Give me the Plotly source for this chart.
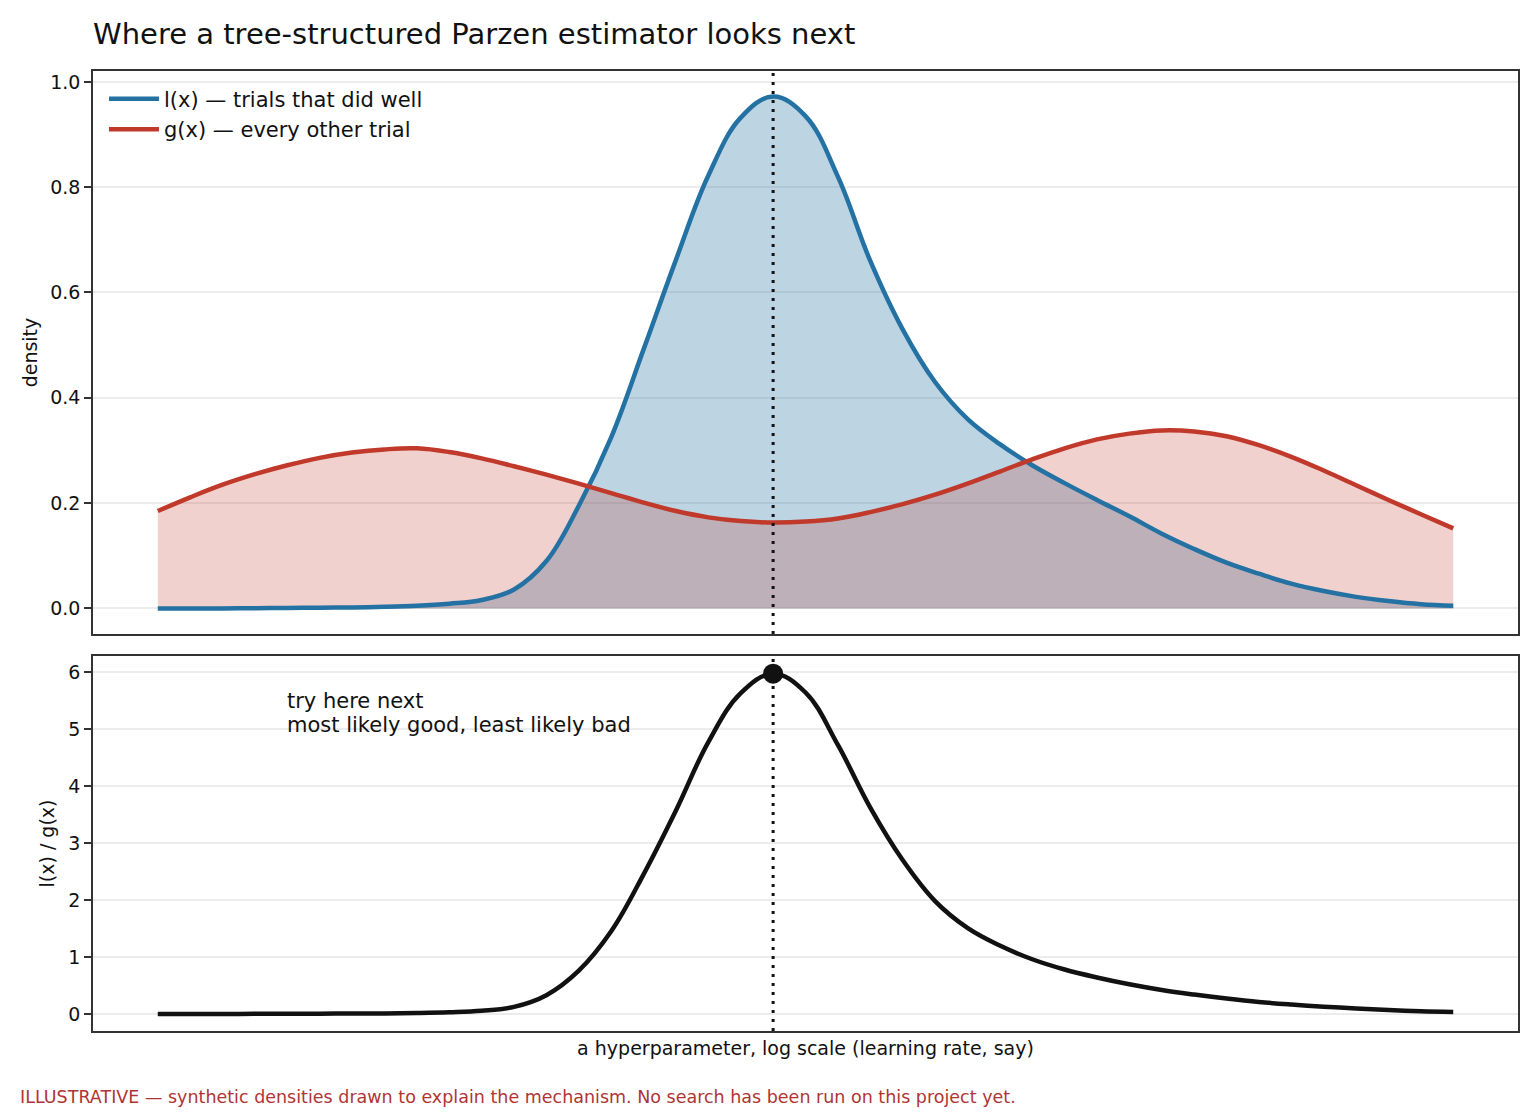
import plotly.graph_objs as go
from plotly.subplots import make_subplots

# log10 of the hyperparameter (no tick labels are shown in the chart)
log_lr = [-5.0, -4.9, -4.8, -4.7, -4.6, -4.5, -4.4, -4.3, -4.2, -4.1,
          -4.0, -3.9, -3.8, -3.7, -3.6, -3.5, -3.4, -3.3, -3.2, -3.1,
          -3.0, -2.9, -2.8, -2.7, -2.6, -2.5, -2.4, -2.3, -2.2, -2.1,
          -2.0, -1.9, -1.8, -1.7, -1.6, -1.5, -1.4, -1.3, -1.2, -1.1, -1.0]

# l(x): density of the trials that did well
l_good = [0.000, 0.000, 0.000, 0.0005, 0.001, 0.0015, 0.002, 0.003, 0.005, 0.009,
          0.016, 0.036, 0.090, 0.195, 0.325, 0.492, 0.662, 0.822, 0.932, 0.972,
          0.935, 0.820, 0.660, 0.530, 0.430, 0.360, 0.312, 0.272, 0.238, 0.206,
          0.175, 0.142, 0.113, 0.087, 0.066, 0.047, 0.033, 0.022, 0.014, 0.008, 0.005]

# g(x): density of every other trial
g_rest = [0.185, 0.211, 0.235, 0.255, 0.272, 0.286, 0.296, 0.302, 0.304, 0.297,
          0.285, 0.270, 0.254, 0.237, 0.219, 0.201, 0.185, 0.173, 0.166, 0.163,
          0.165, 0.171, 0.183, 0.198, 0.216, 0.237, 0.260, 0.283, 0.304, 0.321,
          0.332, 0.338, 0.336, 0.327, 0.310, 0.288, 0.262, 0.234, 0.206, 0.179, 0.152]

# l(x) / g(x)
ratio = [0.000, 0.000, 0.000, 0.002, 0.003, 0.005, 0.007, 0.010, 0.017, 0.030,
         0.056, 0.125, 0.330, 0.760, 1.450, 2.450, 3.570, 4.770, 5.630, 5.970,
         5.640, 4.720, 3.620, 2.700, 1.980, 1.510, 1.200, 0.960, 0.780, 0.640,
         0.520, 0.420, 0.340, 0.270, 0.210, 0.165, 0.128, 0.096, 0.069, 0.047, 0.034]

BLUE = "#2471a3"
RED = "#c0392b"
INK = "#111111"
FONT = "DejaVu Sans"
SMOOTH = 1.1

best = ratio.index(max(ratio))
x_best = log_lr[best]

fig = make_subplots(rows=2, cols=1, shared_xaxes=True, vertical_spacing=0.02)

# fills first so the lines sit on top of them
fig.add_trace(go.Scatter(x=log_lr, y=l_good, fill="tozeroy", fillcolor="rgba(36,113,163,0.30)",
                         mode="lines", line=dict(width=0, shape="spline", smoothing=SMOOTH),
                         showlegend=False, hoverinfo="skip"), row=1, col=1)
fig.add_trace(go.Scatter(x=log_lr, y=g_rest, fill="tozeroy", fillcolor="rgba(192,57,43,0.23)",
                         mode="lines", line=dict(width=0, shape="spline", smoothing=SMOOTH),
                         showlegend=False, hoverinfo="skip"), row=1, col=1)
fig.add_trace(go.Scatter(x=log_lr, y=l_good, mode="lines", name="l(x) — trials that did well",
                         line=dict(color=BLUE, width=4.5, shape="spline", smoothing=SMOOTH)),
              row=1, col=1)
fig.add_trace(go.Scatter(x=log_lr, y=g_rest, mode="lines", name="g(x) — every other trial",
                         line=dict(color=RED, width=4.5, shape="spline", smoothing=SMOOTH)),
              row=1, col=1)

fig.add_trace(go.Scatter(x=log_lr, y=ratio, mode="lines", showlegend=False,
                         line=dict(color=INK, width=4.5, shape="spline", smoothing=SMOOTH)),
              row=2, col=1)
fig.add_trace(go.Scatter(x=[x_best], y=[ratio[best]], mode="markers", showlegend=False,
                         marker=dict(color=INK, size=20)), row=2, col=1)

for r in (1, 2):
    fig.add_vline(x=x_best, line=dict(color=INK, width=3, dash="3px,6px"), row=r, col=1)

# the two note lines, placed separately to keep matplotlib-like line spacing
for txt, yv in (("try here next", 5.49), ("most likely good, least likely bad", 5.07)):
    fig.add_annotation(x=-4.607, y=yv, xref="x2", yref="y2", xanchor="left", yanchor="middle",
                       showarrow=False, text=txt, font=dict(family=FONT, size=21, color=INK))

fig.add_annotation(x=-0.0526, y=-0.069, xref="paper", yref="paper", xanchor="left",
                   yanchor="middle", showarrow=False,
                   text="ILLUSTRATIVE — synthetic densities drawn to explain the mechanism. "
                        "No search has been run on this project yet.",
                   font=dict(family=FONT, size=17.5, color="#b03434"))

axis_style = dict(showline=True, linecolor="#333333", linewidth=1.6, mirror=True, zeroline=False)

fig.update_xaxes(range=[-5.2, -0.8], showticklabels=False, ticks="", showgrid=False, **axis_style)
fig.update_xaxes(title=dict(text="a hyperparameter, log scale (learning rate, say)",
                            font=dict(size=19), standoff=10), row=2, col=1)

fig.update_yaxes(ticks="outside", ticklen=7, tickwidth=1.5, tickcolor="#333333",
                 showgrid=True, gridcolor="#ececec", gridwidth=1.5,
                 tickfont=dict(size=19), **axis_style)
fig.update_yaxes(domain=[0.4135, 1.0], range=[-0.0486, 1.0206],
                 tickvals=[0, 0.2, 0.4, 0.6, 0.8, 1.0], tickformat=".1f",
                 title=dict(text="density", font=dict(size=19), standoff=8), row=1, col=1)
fig.update_yaxes(domain=[0.0, 0.3906], range=[-0.299, 6.28], dtick=1,
                 title=dict(text="l(x) / g(x)", font=dict(size=19), standoff=9), row=2, col=1)

# the page adds an 8px body margin, so the figure is 8px smaller and shifted margins
fig.update_layout(
    width=1532,
    height=1112,
    margin=dict(l=85, r=22, t=63, b=89),
    paper_bgcolor="white",
    plot_bgcolor="white",
    font=dict(family=FONT, size=19, color=INK),
    title=dict(text="Where a tree-structured Parzen estimator looks next", x=85 / 1532,
               xanchor="left", y=1 - 26 / 1112, yanchor="middle",
               font=dict(family=FONT, size=29, color=INK)),
    legend=dict(x=0.0077, y=0.992, xanchor="left", yanchor="top", bgcolor="rgba(0,0,0,0)",
                font=dict(family=FONT, size=21, color=INK), itemwidth=50),
)

fig.write_html("out.html")
